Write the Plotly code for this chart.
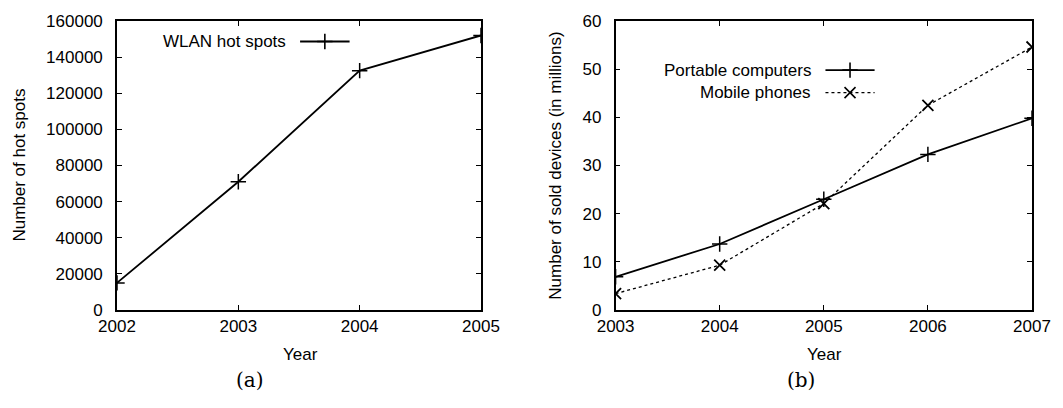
import plotly.graph_objects as go

# ---- data ----
years_a = [2002, 2003, 2004, 2005]
wlan_hotspots = [15000, 71000, 132500, 152000]

years_b = [2003, 2004, 2005, 2006, 2007]
portable_computers = [6.9, 13.7, 23.0, 32.3, 39.8]
mobile_phones = [3.4, 9.3, 22.1, 42.5, 54.6]

yticks_a = [0, 20000, 40000, 60000, 80000, 100000, 120000, 140000, 160000]
yticks_b = [0, 10, 20, 30, 40, 50, 60]

FONT = "Liberation Sans, Arial, sans-serif"
FS = 17
BLACK = "#000000"
LW = 1.8

fig = go.Figure()

fig.add_trace(go.Scatter(x=years_a, y=wlan_hotspots, mode="lines+markers",
                         line=dict(color=BLACK, width=LW),
                         marker=dict(symbol="cross-thin", size=11, line=dict(color=BLACK, width=1.5)),
                         xaxis="x", yaxis="y", showlegend=False))
fig.add_trace(go.Scatter(x=years_b, y=portable_computers, mode="lines+markers",
                         line=dict(color=BLACK, width=LW),
                         marker=dict(symbol="cross-thin", size=11, line=dict(color=BLACK, width=1.5)),
                         xaxis="x2", yaxis="y2", showlegend=False))
fig.add_trace(go.Scatter(x=years_b, y=mobile_phones, mode="lines+markers",
                         line=dict(color=BLACK, width=1.3, dash="dot"),
                         marker=dict(symbol="x-thin", size=11, line=dict(color=BLACK, width=1.8)),
                         xaxis="x2", yaxis="y2", showlegend=False))

# ---- legend keys (gnuplot style: text then sample) ----
legend_a = [("WLAN hot spots", 0.929, "solid", "cross-thin")]
legend_b = [("Portable computers", 0.830, "solid", "cross-thin"),
            ("Mobile phones", 0.752, "dot", "x-thin")]

def add_key(items, xref, yref, ovx, ovy, tx, l0, l1, lm):
    for label, yy, dash, sym in items:
        fig.add_annotation(text=label, x=tx, y=yy, xref=xref + " domain", yref=yref + " domain",
                           xanchor="right", yanchor="middle", showarrow=False,
                           font=dict(family=FONT, size=FS, color=BLACK))
        fig.add_shape(type="line", x0=l0, x1=l1, y0=yy, y1=yy,
                      xref=xref + " domain", yref=yref + " domain",
                      line=dict(color=BLACK, width=LW if dash == "solid" else 1.3, dash=dash))
        fig.add_trace(go.Scatter(x=[lm], y=[yy], mode="markers", xaxis=ovx, yaxis=ovy,
                                 marker=dict(symbol=sym, size=11, line=dict(color=BLACK, width=1.6)),
                                 showlegend=False, hoverinfo="skip"))

add_key(legend_a, "x", "y", "x3", "y3", 0.47, 0.503, 0.639, 0.571)
add_key(legend_b, "x2", "y2", "x4", "y4", 0.473, 0.504, 0.622, 0.563)

axis_common = dict(showline=True, linecolor=BLACK, linewidth=1.6, mirror="ticks",
                   ticks="inside", ticklen=5, tickwidth=1.2, tickcolor=BLACK,
                   showgrid=False, zeroline=False, tickformat="d",
                   tickfont=dict(family=FONT, size=FS, color=BLACK))

dom_a = [0.0, 0.3978]
dom_b = [0.5449, 1.0]

fig.update_layout(
    width=1063, height=408,
    margin=dict(l=117, r=21, t=16, b=98),
    paper_bgcolor="white", plot_bgcolor="white",
    showlegend=False,
    xaxis=dict(domain=dom_a, range=[2002, 2005], tickvals=years_a, anchor="y",
               ticklabelstandoff=0, **axis_common),
    yaxis=dict(domain=[0, 1], range=[0, 160000], tickvals=yticks_a, anchor="x",
               ticklabelstandoff=9, **axis_common),
    xaxis2=dict(domain=dom_b, range=[2003, 2007], tickvals=years_b, anchor="y2",
                ticklabelstandoff=0, **axis_common),
    yaxis2=dict(domain=[0, 1], range=[0, 60], tickvals=yticks_b, anchor="x2",
                ticklabelstandoff=9, **axis_common),
    xaxis3=dict(overlaying="x", range=[0, 1], visible=False, anchor="y3"),
    yaxis3=dict(overlaying="y", range=[0, 1], visible=False, anchor="x3"),
    xaxis4=dict(overlaying="x2", range=[0, 1], visible=False, anchor="y4"),
    yaxis4=dict(overlaying="y2", range=[0, 1], visible=False, anchor="x4"),
)

# axis titles and captions
def ann(text, x, y, angle=0, family=FONT, size=FS):
    fig.add_annotation(text=text, x=x, y=y, xref="paper", yref="paper", showarrow=False,
                       xanchor="center", yanchor="middle", textangle=angle,
                       font=dict(family=family, size=size, color=BLACK))

W, H = 925, 294
def px(xp):
    return (xp - 117) / W
def py(yp):
    return (310 - yp) / H

ann("Year", px(302), py(355))
ann("Year", px(832), py(355))
ann("Number of hot spots", px(18), py(163), angle=-90)
ann("Number of sold devices (in millions)", px(560), py(163), angle=-90)
ann("(a)", px(251), py(381), family="DejaVu Serif, serif", size=20)
ann("(b)", px(808), py(381), family="DejaVu Serif, serif", size=20)

fig.write_html("out.html", config={"displayModeBar": False},
               post_script="document.body.style.margin='0';document.body.style.overflow='hidden';")
